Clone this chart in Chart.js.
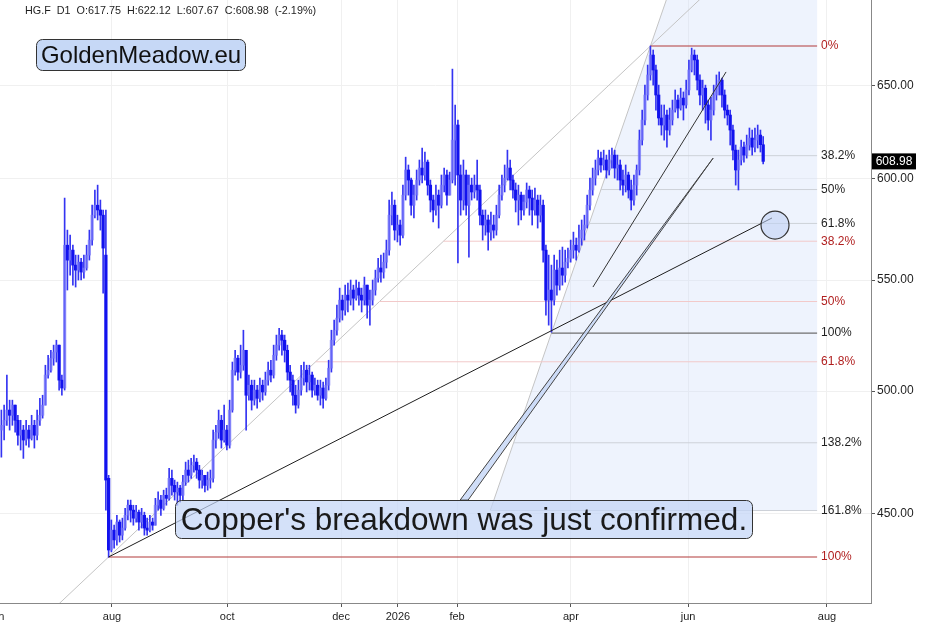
<!DOCTYPE html>
<html>
<head>
<meta charset="utf-8">
<script src="https://cdn.jsdelivr.net/npm/chart.js@4.4.1/dist/chart.umd.min.js"></script>
<style>
  html, body { margin: 0; padding: 0; background: #fff; }
  #wrap { width: 945px; height: 629px; position: relative; }
</style>
</head>
<body>
<div id="wrap"><canvas id="chart" width="945" height="629"></canvas></div>
<script>
// HG.F daily candles, one entry per bar (bar index 0 = early june 2025)
var opens = [483.5,485.5,487.6,491.9,489.7,494.0,487.6,481.4,483.5,479.4,483.5,480.1,485.5,481.4,487.6,489.7,494.0,506.9,509.0,514.3,
  517.0,520.1,504.7,501.3,566.7,559.5,564.3,557.1,554.7,558.5,553.8,555.7,561.9,569.2,581.5,586.5,584.1,581.5,561.9,463.9,
  436.2,443.7,440.0,446.8,441.8,444.5,449.4,453.3,451.4,448.3,450.6,446.8,449.4,444.5,443.7,446.8,445.6,453.3,455.3,452.1,
  457.2,456.0,463.9,461.1,458.5,460.0,457.2,462.4,467.2,465.1,469.1,470.4,467.2,463.2,465.1,461.1,463.2,463.9,479.4,482.6,
  487.6,479.4,483.5,477.3,491.9,509.0,514.3,508.2,511.2,517.8,498.2,502.5,496.1,500.4,496.9,502.5,499.6,504.7,509.0,506.9,
  515.6,520.1,524.6,522.3,517.8,508.2,504.7,498.2,494.0,500.4,505.6,509.0,503.9,506.9,500.4,502.5,498.2,501.3,496.9,502.5,
  509.9,522.3,526.8,532.3,540.6,536.0,542.9,540.6,545.3,541.5,546.2,542.9,540.6,547.6,538.3,540.6,545.3,550.9,555.7,553.8,
  558.5,564.3,581.5,586.5,574.1,576.6,571.6,591.6,604.5,599.3,586.5,591.6,599.3,605.5,601.9,608.6,596.7,589.1,584.1,591.6,
  586.5,596.7,601.9,591.6,599.3,620.2,628.3,601.9,589.1,601.9,586.5,596.7,593.2,596.7,594.2,581.5,576.6,579.1,573.1,576.6,
  574.1,581.5,591.6,596.7,600.3,605.5,599.3,594.2,589.1,591.6,584.1,588.1,594.2,590.1,584.1,589.1,581.5,586.5,564.3,540.6,
  545.3,540.6,554.7,547.6,555.7,552.3,558.5,560.4,564.3,566.7,564.3,570.2,574.1,576.6,586.5,594.2,600.3,604.5,610.7,607.1,
  609.7,604.5,609.7,612.3,605.5,607.1,599.3,596.7,601.9,594.2,589.1,596.7,604.5,620.2,631.0,644.7,655.9,667.2,658.7,644.7,
  632.1,628.3,633.7,625.6,631.0,636.4,641.9,637.5,643.0,639.2,647.5,658.7,667.2,664.4,653.0,644.7,648.5,639.2,631.0,636.4,
  644.7,650.2,653.0,644.7,636.4,633.7,625.6,614.9,604.5,609.7,616.5,612.3,617.6,621.3,616.5,620.2,622.9,617.75];
var highs = [491.9,494.0,506.9,496.1,496.1,494.0,489.7,487.6,485.5,487.6,485.5,489.7,487.6,491.9,496.9,498.2,511.2,515.6,517.8,520.1,
  522.3,520.1,506.9,590.1,574.1,571.6,566.7,561.9,561.9,560.4,561.9,566.7,574.1,586.5,594.2,596.7,589.1,584.1,584.1,465.1,
  447.6,445.6,449.4,447.6,448.3,452.1,455.3,455.3,453.3,453.3,451.4,452.1,450.6,448.3,449.4,448.3,456.0,458.5,457.2,459.2,
  460.0,467.9,467.2,463.2,462.4,461.1,465.1,470.4,471.2,471.9,473.2,471.9,469.1,467.2,465.1,466.4,467.2,483.5,485.5,491.9,
  489.7,494.0,485.5,496.1,512.6,517.8,515.6,520.1,526.8,517.8,506.9,504.7,504.7,502.5,505.6,504.7,508.2,512.6,513.4,520.1,
  524.6,527.7,526.8,524.6,520.1,511.2,506.9,502.5,504.7,511.2,512.6,511.2,511.2,508.2,505.6,504.7,504.7,503.9,505.6,513.4,
  526.8,531.4,538.3,546.2,542.9,547.6,548.6,550.0,547.6,550.0,549.0,546.2,551.4,547.6,545.3,550.0,554.7,560.4,561.9,562.9,
  569.2,589.1,593.2,589.1,581.5,579.1,596.7,611.2,607.1,600.3,596.7,604.5,609.7,616.0,613.9,609.7,599.3,591.6,596.7,594.2,
  601.9,605.5,604.5,603.4,659.2,639.2,631.0,607.1,609.7,604.5,601.9,600.3,601.9,609.7,596.7,584.1,584.1,581.5,583.1,581.5,
  586.5,596.7,601.9,607.1,614.9,609.7,601.9,597.8,596.7,593.2,591.6,597.8,596.2,594.2,595.2,591.6,591.6,589.1,566.7,561.9,
  557.1,561.9,559.5,564.3,565.8,564.3,565.3,569.2,573.1,570.2,576.6,579.1,581.5,591.6,600.3,605.5,609.7,614.9,613.9,614.9,
  612.3,614.9,616.0,614.9,612.3,609.7,604.5,607.1,603.4,599.3,601.9,607.1,625.6,636.4,650.2,661.5,672.4,670.1,661.5,650.2,
  639.2,639.2,636.4,637.5,641.9,647.5,644.7,648.5,646.4,653.0,664.4,671.2,670.1,667.2,655.9,653.0,650.2,641.9,643.6,650.2,
  655.9,657.6,654.1,647.5,639.2,636.4,628.3,617.6,614.9,620.2,619.2,622.9,626.7,625.6,626.7,628.3,625.6,622.12];
var lows = [472.4,479.4,485.5,483.5,485.5,482.6,477.3,475.3,471.9,477.3,476.5,479.4,476.1,479.4,485.5,488.5,494.0,505.6,508.2,511.2,
  512.6,500.4,498.2,500.4,545.3,552.3,547.6,546.7,550.0,550.0,550.9,554.7,559.5,566.7,580.1,579.1,574.1,543.8,451.4,433.5,
  435.5,436.9,438.0,439.2,440.0,443.7,447.6,446.8,445.6,446.8,443.7,444.5,441.8,441.8,443.0,443.7,445.6,451.4,449.4,451.4,
  453.3,455.3,457.2,455.3,453.3,454.5,455.3,461.1,462.4,463.9,466.4,463.9,460.0,460.0,458.5,459.2,460.0,462.4,476.1,480.1,
  476.1,478.5,475.3,476.1,491.0,506.9,504.7,505.6,509.0,483.5,496.1,491.9,494.0,492.7,495.3,496.1,498.2,502.5,503.9,505.6,
  513.4,517.8,515.6,512.6,504.7,499.6,494.0,490.6,492.7,498.2,502.5,499.6,500.4,497.4,498.2,496.1,494.0,492.7,496.1,500.4,
  508.2,520.1,524.6,530.5,531.4,533.7,535.1,538.3,536.0,540.6,538.3,535.1,538.3,532.3,529.1,538.3,542.9,549.0,549.0,550.9,
  555.7,561.9,576.6,569.2,568.3,566.7,570.2,589.1,591.6,581.5,580.1,589.1,596.7,597.8,599.3,591.6,583.1,578.1,581.5,575.1,
  585.1,593.2,586.5,591.6,597.8,596.7,558.1,581.5,584.1,581.5,560.9,589.1,590.1,589.1,576.6,569.2,571.6,564.3,569.2,570.2,
  571.6,580.1,589.1,593.2,599.3,594.2,590.1,583.1,576.6,579.1,581.5,585.1,581.5,576.6,581.5,575.1,578.1,558.5,533.7,529.1,
  525.9,538.3,542.9,545.3,547.6,549.0,555.7,558.5,560.4,559.5,563.3,566.7,569.2,575.1,584.1,591.6,596.7,601.9,603.4,604.5,
  600.3,601.9,605.5,600.3,599.3,594.2,591.6,593.2,590.1,584.1,586.5,591.6,601.9,617.6,628.3,641.9,653.0,650.2,636.4,628.3,
  622.9,620.2,616.5,622.9,628.3,635.3,632.1,636.4,631.0,637.5,644.7,657.6,655.9,647.5,639.2,636.4,629.3,625.6,620.2,633.7,
  641.9,644.7,638.0,632.1,628.3,617.6,609.7,596.7,594.2,607.1,608.6,610.7,614.9,612.3,613.9,616.0,613.9,607.67];
var closes = [485.5,487.6,491.9,489.7,494.0,487.6,481.4,483.5,479.4,483.5,480.1,485.5,481.4,487.6,489.7,494.0,506.9,509.0,514.3,517.0,
  520.1,504.7,501.3,566.7,559.5,564.3,557.1,554.7,558.5,553.8,555.7,561.9,569.2,581.5,586.5,584.1,581.5,565.3,463.2,436.2,
  443.7,440.0,446.8,441.8,444.5,449.4,453.3,451.4,448.3,450.6,446.8,449.4,444.5,443.7,446.8,445.6,453.3,455.3,452.1,457.2,
  456.0,463.9,461.1,458.5,460.0,457.2,462.4,467.2,465.1,469.1,470.4,467.2,463.2,465.1,461.1,463.2,463.9,479.4,482.6,487.6,
  479.4,483.5,477.3,491.9,509.0,514.3,508.2,511.2,517.8,498.2,502.5,496.1,500.4,496.9,502.5,499.6,504.7,509.0,506.9,515.6,
  520.1,524.6,522.3,517.8,508.2,504.7,498.2,494.0,500.4,505.6,509.0,503.9,506.9,500.4,502.5,498.2,501.3,496.9,502.5,509.9,
  522.3,526.8,532.3,540.6,536.0,542.9,540.6,545.3,541.5,546.2,542.9,540.6,547.6,538.3,540.6,545.3,550.9,555.7,553.8,558.5,
  564.3,581.5,586.5,574.1,576.6,571.6,591.6,604.5,599.3,586.5,591.6,599.3,605.5,601.9,608.6,596.7,589.1,584.1,591.6,586.5,
  596.7,601.9,591.6,599.3,620.2,628.3,601.9,589.1,601.9,586.5,596.7,593.2,596.7,594.2,581.5,576.6,579.1,573.1,576.6,574.1,
  581.5,591.6,596.7,600.3,605.5,599.3,594.2,589.1,591.6,584.1,588.1,594.2,590.1,584.1,589.1,581.5,586.5,564.3,540.6,545.3,
  540.6,554.7,547.6,555.7,552.3,558.5,560.4,564.3,566.7,564.3,570.2,574.1,576.6,586.5,594.2,600.3,604.5,610.7,607.1,609.7,
  604.5,609.7,612.3,605.5,607.1,599.3,596.7,601.9,594.2,589.1,596.7,604.5,620.2,631.0,644.7,655.9,667.2,658.7,644.7,632.1,
  628.3,633.7,625.6,631.0,636.4,641.9,637.5,643.0,639.2,647.5,658.7,667.2,664.4,653.0,644.7,648.5,639.2,631.0,636.4,644.7,
  650.2,653.0,644.7,636.4,633.7,625.6,614.9,604.5,609.7,616.5,612.3,617.6,621.3,616.5,620.2,622.9,617.8,608.98];

// x axis: bar index, month labels at these positions
var monthTicks = [-1.6, 40.2, 82.1, 123.5, 144.2, 165.7, 207.1, 249.7, 300.2];
var monthLabels = ['jun', 'aug', 'oct', 'dec', '2026', 'feb', 'apr', 'jun', 'aug'];
var priceTicks = [450, 500, 550, 600, 650];

// fibonacci anchors [bar, price]
var swingHigh = [236, 672.4];
var augLow = [39, 433.6];
var marLow = [200, 525.5];
var redLevels = [0, 0.382, 0.5, 0.618, 1];
var blackLevels = [0.382, 0.5, 0.618, 1, 1.382, 1.618];
var fibEnd = 296.6;

// hand drawn lines [bar, price]
var supportLine = [[39, 433.6], [280.2, 580.1]];
var riseLine = [[215.1, 546.7], [263.5, 657.6]];
var circlePoint = [281.3, 576.6];
var calloutTip = [258.8, 610.7];
var calloutBase = [[166.8, 455.3], [169.7, 455.3]];

var FONT = '"Liberation Sans", Arial, Helvetica, sans-serif';

function fibPrice(lo, hi, r) {
  var a = Math.log(hi[1]), b = Math.log(lo[1]);
  return Math.exp(a - r * (a - b));
}
function fibBar(lo, hi, r) {
  return hi[0] + (lo[0] - hi[0]) * r;
}
function fibPoint(lo, hi, r) {
  return {x: fibBar(lo, hi, r), y: fibPrice(lo, hi, r)};
}

function lineSet(points, color, width, order) {
  return {
    type: 'line',
    data: points,
    borderColor: color,
    borderWidth: width,
    pointRadius: 0,
    fill: false,
    tension: 0,
    order: order
  };
}

var wicks = [], bodies = [], bodyColors = [];
for (var i = 0; i < closes.length; i++) {
  wicks.push({x: i, y: [lows[i], highs[i]]});
  bodies.push({x: i, y: [opens[i], closes[i]]});
  bodyColors.push(closes[i] >= opens[i] ? 'rgba(120,120,250,0.7)' : '#1212ee');
}

var datasets = [];

redLevels.forEach(function(r) {
  var strong = (r === 0 || r === 1);
  datasets.push(lineSet([fibPoint(augLow, swingHigh, r), {x: fibEnd, y: fibPrice(augLow, swingHigh, r)}],
    strong ? '#b23a3a' : '#f2c9c9', strong ? 1.2 : 1, 6));
});
blackLevels.forEach(function(r) {
  datasets.push(lineSet([fibPoint(marLow, swingHigh, r), {x: fibEnd, y: fibPrice(marLow, swingHigh, r)}],
    r === 1 ? '#6f6f6f' : '#cdd1d8', r === 1 ? 1.2 : 1, 6));
});

// trend lines through the fib anchors, extended
datasets.push(lineSet([fibPoint(augLow, swingHigh, 1.1), fibPoint(augLow, swingHigh, -0.1)], '#c4c4c4', 1, 6));
datasets.push(lineSet([fibPoint(marLow, swingHigh, 1.618), fibPoint(marLow, swingHigh, -0.2)], '#c4c4c4', 1, 6));

datasets.push({
  type: 'bar', data: wicks, backgroundColor: '#3434f2', barThickness: 1,
  grouped: false, order: 3
});
datasets.push({
  type: 'bar', data: bodies, backgroundColor: bodyColors, borderColor: '#2a2af0',
  borderWidth: 0, barThickness: 2.6, grouped: false, order: 2
});

datasets.push(lineSet([{x: supportLine[0][0], y: supportLine[0][1]}, {x: supportLine[1][0], y: supportLine[1][1]}], '#1e1e1e', 1, 1));
datasets.push(lineSet([{x: riseLine[0][0], y: riseLine[0][1]}, {x: riseLine[1][0], y: riseLine[1][1]}], '#333', 1, 1));

datasets.push({
  type: 'line',
  data: [{x: circlePoint[0], y: circlePoint[1]}],
  showLine: false,
  pointRadius: 14,
  pointBackgroundColor: 'rgba(190,208,244,0.55)',
  pointBorderColor: '#333',
  pointBorderWidth: 1.2,
  order: 0
});

function roundRect(ctx, x, y, w, h, r) {
  ctx.beginPath();
  ctx.moveTo(x + r, y);
  ctx.lineTo(x + w - r, y);
  ctx.arcTo(x + w, y, x + w, y + r, r);
  ctx.lineTo(x + w, y + h - r);
  ctx.arcTo(x + w, y + h, x + w - r, y + h, r);
  ctx.lineTo(x + r, y + h);
  ctx.arcTo(x, y + h, x, y + h - r, r);
  ctx.lineTo(x, y + r);
  ctx.arcTo(x, y, x + r, y, r);
  ctx.closePath();
}

function fitSize(ctx, text, width) {
  ctx.font = '100px ' + FONT;
  return 100 * width / ctx.measureText(text).width;
}

var drawings = {
  id: 'drawings',
  beforeDatasetsDraw: function(chart) {
    var ctx = chart.ctx, xs = chart.scales.x, ys = chart.scales.y, a = chart.chartArea;
    var p1 = fibPoint(marLow, swingHigh, 1.618), p2 = fibPoint(marLow, swingHigh, -0.2);
    ctx.save();
    ctx.beginPath();
    ctx.rect(a.left, a.top, a.right - a.left, a.bottom - a.top);
    ctx.clip();
    ctx.beginPath();
    ctx.moveTo(xs.getPixelForValue(p1.x), ys.getPixelForValue(p1.y));
    ctx.lineTo(xs.getPixelForValue(p2.x), ys.getPixelForValue(p2.y));
    ctx.lineTo(xs.getPixelForValue(fibEnd), ys.getPixelForValue(p2.y));
    ctx.lineTo(xs.getPixelForValue(fibEnd), ys.getPixelForValue(p1.y));
    ctx.closePath();
    ctx.fillStyle = 'rgba(205,220,250,0.35)';
    ctx.fill();
    ctx.restore();
  },
  afterDatasetsDraw: function(chart) {
    var ctx = chart.ctx, xs = chart.scales.x, ys = chart.scales.y;
    // callout pointer
    ctx.save();
    ctx.beginPath();
    ctx.moveTo(xs.getPixelForValue(calloutBase[0][0]), ys.getPixelForValue(calloutBase[0][1]));
    ctx.lineTo(xs.getPixelForValue(calloutTip[0]), ys.getPixelForValue(calloutTip[1]));
    ctx.lineTo(xs.getPixelForValue(calloutBase[1][0]), ys.getPixelForValue(calloutBase[1][1]));
    ctx.closePath();
    ctx.fillStyle = 'rgba(196,214,246,0.8)';
    ctx.fill();
    ctx.strokeStyle = '#444';
    ctx.lineWidth = 1;
    ctx.stroke();
    ctx.restore();
  },
  afterDraw: function(chart) {
    var ctx = chart.ctx, xs = chart.scales.x, ys = chart.scales.y, a = chart.chartArea;
    ctx.save();

    // header
    var head = 'HG.F  D1  O:617.75  H:622.12  L:607.67  C:608.98  (-2.19%)';
    ctx.font = fitSize(ctx, head, 292).toFixed(1) + 'px ' + FONT;
    ctx.fillStyle = '#1e1e1e';
    ctx.textBaseline = 'middle';
    ctx.textAlign = 'left';
    ctx.fillText(head, 25, 11);

    // watermark box
    roundRect(ctx, 36.5, 39.5, 209, 31, 6);
    ctx.fillStyle = '#c6d8f6';
    ctx.fill();
    ctx.strokeStyle = '#333';
    ctx.lineWidth = 1;
    ctx.stroke();
    var wm = 'GoldenMeadow.eu';
    ctx.font = fitSize(ctx, wm, 200).toFixed(1) + 'px ' + FONT;
    ctx.fillStyle = '#111';
    ctx.textAlign = 'center';
    ctx.fillText(wm, 141, 56);

    // callout box
    roundRect(ctx, 175.5, 500.5, 577, 38, 6);
    ctx.fillStyle = 'rgba(196,214,246,0.72)';
    ctx.fill();
    ctx.strokeStyle = '#333';
    ctx.stroke();
    var note = "Copper's breakdown was just confirmed.";
    ctx.font = fitSize(ctx, note, 566).toFixed(1) + 'px ' + FONT;
    ctx.fillStyle = '#1a1a1a';
    ctx.fillText(note, 464, 521);

    // fib labels
    ctx.font = '12px ' + FONT;
    ctx.textAlign = 'left';
    var lx = xs.getPixelForValue(fibEnd) + 4;
    blackLevels.forEach(function(r) {
      ctx.fillStyle = '#1e1e1e';
      ctx.fillText((r * 100).toFixed(1).replace('.0', '') + '%', lx, ys.getPixelForValue(fibPrice(marLow, swingHigh, r)));
    });
    redLevels.forEach(function(r) {
      ctx.fillStyle = '#b01e1e';
      ctx.fillText((r * 100).toFixed(1).replace('.0', '') + '%', lx, ys.getPixelForValue(fibPrice(augLow, swingHigh, r)));
    });

    // x labels
    ctx.font = '11px ' + FONT;
    ctx.fillStyle = '#1e1e1e';
    ctx.textAlign = 'center';
    monthTicks.forEach(function(v, k) {
      ctx.fillText(monthLabels[k], xs.getPixelForValue(v), a.bottom + 14);
    });

    // last price tag
    var last = closes[closes.length - 1];
    var py = ys.getPixelForValue(last);
    ctx.fillStyle = '#000';
    ctx.fillRect(a.right + 1, py - 8, 44, 16);
    ctx.fillStyle = '#fff';
    ctx.font = '12px ' + FONT;
    ctx.fillText(last.toFixed(2), a.right + 23, py + 0.5);

    ctx.restore();
  }
};

new Chart(document.getElementById('chart').getContext('2d'), {
  type: 'bar',
  data: {datasets: datasets},
  options: {
    responsive: false,
    animation: false,
    events: [],
    layout: {padding: 0, autoPadding: false},
    plugins: {legend: {display: false}, tooltip: {enabled: false}},
    scales: {
      x: {
        type: 'linear',
        min: -0.5,
        max: 316.2,
        offset: false,
        grid: {offset: false, color: '#f0f0f0', tickColor: '#555', tickLength: 4},
        border: {color: '#888'},
        ticks: {display: false},
        afterBuildTicks: function(scale) {
          scale.ticks = monthTicks.filter(function(v) { return v >= -0.5; })
            .map(function(v) { return {value: v}; });
        },
        afterFit: function(scale) {
          scale.height = 26;
          scale.paddingLeft = 0;
          scale.paddingRight = 0;
        }
      },
      y: {
        type: 'logarithmic',
        position: 'right',
        min: 416.8,
        max: 699.5,
        grid: {color: '#f0f0f0', tickColor: '#555', tickLength: 4},
        border: {color: '#888'},
        ticks: {
          color: '#1e1e1e',
          padding: 2,
          font: {family: FONT, size: 12},
          callback: function(v) { return Number(v).toFixed(2); }
        },
        afterBuildTicks: function(scale) {
          scale.ticks = priceTicks.map(function(v) { return {value: v}; });
        },
        afterFit: function(scale) {
          scale.width = 74;
          scale.paddingTop = 0;
          scale.paddingBottom = 0;
        }
      }
    }
  },
  plugins: [drawings]
});
</script>
</body>
</html>
